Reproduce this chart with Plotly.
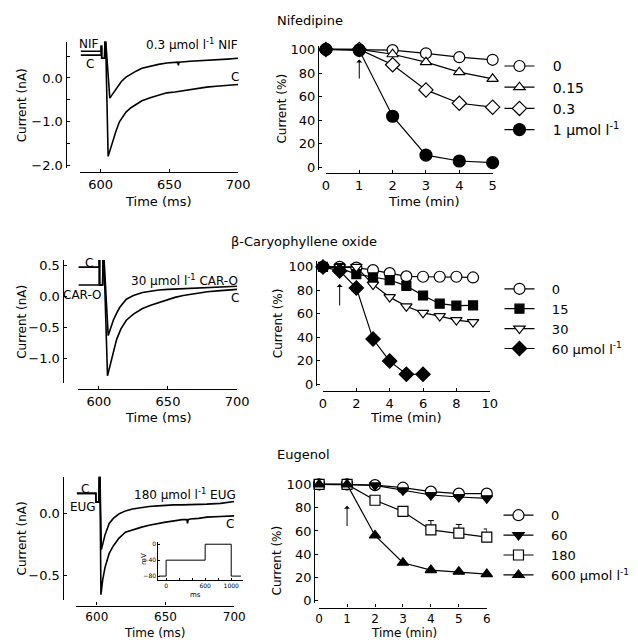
import plotly.graph_objects as go

W, H = 638, 640
def fx(x): return x / W
def fy(y): return 1 - y / H

FONT = "DejaVu Sans"
BLACK = "black"
PAD = "\u00a0\u00a0\u00a0"

# ---------------- Panel A: Nifedipine current traces (nA vs ms) ----------------
a_ctrl_t = [585.5, 600.3, 600.3, 600.7, 600.7, 602.8, 603.1, 603.5, 605.4, 607, 609, 611, 613.6, 616,
            618.4, 622, 626, 630, 636, 642, 648, 654, 660, 665, 671, 677, 684, 692, 700]
a_ctrl_i = [0.52, 0.52, 0.72, 0.72, 0.45, 0.45, 0.95, 0.95, -1.79, -1.62, -1.42, -1.22, -1.0, -0.88,
            -0.78, -0.68, -0.59, -0.52, -0.45, -0.39, -0.34, -0.32, -0.29, -0.26, -0.24, -0.21, -0.19, -0.17, -0.15]
a_nif_t = [585.5, 600.3, 600.3, 600.7, 600.7, 602.8, 603.1, 603.4, 606.6, 608, 610, 612, 615, 618.4, 622,
           626, 630, 636, 642, 648, 653.6, 656.0, 656.5, 657.0, 665, 672, 677, 684, 692, 700]
a_nif_i = [0.61, 0.61, 0.72, 0.72, 0.45, 0.45, 0.95, 0.95, -0.46, -0.40, -0.30, -0.20, -0.08, 0.02, 0.09,
           0.16, 0.22, 0.27, 0.31, 0.34, 0.36, 0.36, 0.29, 0.36, 0.38, 0.39, 0.40, 0.42, 0.43, 0.45]

# ---------------- Panel B: Nifedipine time course ----------------
b_time = [0, 1, 2, 3, 4, 5]
b_0 = [100, 100, 99.4, 96.7, 93.4, 91.2]
b_0_err = [0, 0, 0, 1, 1.5, 3]
b_015 = [100, 100, 95.9, 89.2, 80.7, 75.1]
b_03 = [100, 100, 87.0, 65.7, 54.4, 51.1]
b_1 = [100, 99.2, 43.4, 10.5, 5.5, 4.1]
b_names = ["0", "0.15", "0.3", "1 µmol l<sup>-1</sup>"]

# ---------------- Panel C: CAR-O current traces ----------------
c_ctrl_t = [585.3, 600.3, 600.3, 600.6, 600.6, 602.8, 603.1, 603.6, 606.3, 608.2, 610.5, 612.9, 616, 619.9,
            625, 631.6, 637, 643.3, 650, 655, 661, 666.7, 672, 678.4, 688, 700]
c_ctrl_i = [0.48, 0.48, 0.70, 0.70, 0.19, 0.19, 0.70, 0.70, -1.28, -1.12, -0.90, -0.69, -0.52, -0.38,
            -0.28, -0.19, -0.14, -0.09, -0.04, -0.01, 0.02, 0.04, 0.06, 0.08, 0.10, 0.12]
c_car_t = [585.3, 600.3, 600.3, 600.6, 600.6, 602.8, 603.1, 603.6, 606.8, 608.5, 610.5, 613, 615.2, 619.9,
           625, 631.6, 637, 643.3, 650, 660, 670, 680, 690, 700]
c_car_i = [0.19, 0.19, 0.70, 0.70, 0.19, 0.19, 0.70, 0.70, -0.63, -0.52, -0.38, -0.26, -0.17, -0.04,
           0.02, 0.07, 0.09, 0.11, 0.12, 0.13, 0.14, 0.15, 0.16, 0.17]

# ---------------- Panel D: beta-Caryophyllene oxide time course ----------------
d_time = [0, 1, 2, 3, 4, 5, 6, 7, 8, 9]
d_0 = [100, 100, 99.4, 97.2, 94.7, 91.9, 91.6, 91.6, 91.6, 91.0]
d_15 = [100, 98.9, 93.8, 91.0, 88.8, 83.8, 75.6, 68.6, 66.9, 67.2]
d_30 = [100, 100, 100, 84.9, 74.2, 66.4, 60.8, 58.0, 54.6, 52.9]
d_60_time = [0, 1, 2, 3, 4, 5, 6]
d_60 = [100, 96.6, 82.1, 38.4, 19.6, 8.4, 8.4]
d_names = ["0", "15", "30", "60 µmol l<sup>-1</sup>"]

# ---------------- Panel E: Eugenol current traces ----------------
e_ctrl_t = [585.5, 599.3, 599.3, 601.5, 601.8, 602.2, 603.0, 604.3, 606, 609, 612, 616, 620.8, 626, 632.6,
            638, 644.4, 650, 656.3, 662, 665.5, 666, 666.5, 668, 674, 680, 690, 700]
e_ctrl_i = [0.16, 0.16, 0.09, 0.09, 0.35, 0.35, -0.65, -0.53, -0.43, -0.32, -0.26, -0.20, -0.15, -0.13, -0.11,
            -0.095, -0.08, -0.07, -0.06, -0.05, -0.05, -0.08, -0.05, -0.045, -0.04, -0.03, -0.025, -0.02]
e_eug_t = [585.5, 599.3, 599.3, 601.5, 601.8, 602.2, 603.3, 604.3, 606, 609, 612, 616, 620.8, 626, 632.6,
           638, 644.4, 650, 656, 662, 668, 674, 680, 690, 700]
e_eug_i = [0.16, 0.16, 0.09, 0.09, 0.35, 0.35, -0.29, -0.24, -0.17, -0.08, -0.04, -0.005, 0.02, 0.035, 0.047,
           0.055, 0.06, 0.065, 0.068, 0.068, 0.068, 0.072, 0.074, 0.08, 0.095]

# inset voltage protocol
proto_t = [-110, 0, 0, 600, 600, 1000, 1000, 1150]
proto_v = [-80, -80, -40, -40, 0, 0, -80, -80]

# ---------------- Panel F: Eugenol time course ----------------
f_time = [0, 1, 2, 3, 4, 5, 6]
f_0 = [100, 100, 99.4, 97.2, 93.8, 92.1, 92.1]
f_0_err = [0, 0, 0, 0, 1.5, 2, 2]
f_60 = [100, 100, 99.2, 94.9, 90.9, 89.2, 88.1]
f_180 = [100, 100, 86.4, 76.8, 60.9, 58.1, 54.7]
f_180_err = [0, 0, 0, 4, 8, 7.5, 7]
f_600 = [100, 100, 56.1, 32.6, 26.3, 24.9, 22.9]
f_names = ["0", "60", "180", "600 µmol l<sup>-1</sup>"]

fig = go.Figure()

def trace_line(t, i, xa, ya):
    fig.add_trace(go.Scatter(x=t, y=i, mode="lines", xaxis=xa, yaxis=ya, showlegend=False,
                             line=dict(color=BLACK, width=1.6), hoverinfo="skip"))

trace_line(a_ctrl_t, a_ctrl_i, "x", "y")
trace_line(a_nif_t, a_nif_i, "x", "y")
trace_line(c_ctrl_t, c_ctrl_i, "x3", "y3")
trace_line(c_car_t, c_car_i, "x3", "y3")
trace_line(e_ctrl_t, e_ctrl_i, "x5", "y5")
trace_line(e_eug_t, e_eug_i, "x5", "y5")
fig.add_trace(go.Scatter(x=proto_t, y=proto_v, mode="lines", xaxis="x7", yaxis="y7", showlegend=False,
                         line=dict(color=BLACK, width=1), hoverinfo="skip"))

def series(t, v, name, symbol, fill, size, xa, ya, legend, err=None):
    kw = {}
    if err is not None:
        kw["error_y"] = dict(type="data", array=err, arrayminus=[0] * len(err), symmetric=False,
                             color=BLACK, thickness=1, width=3)
    fig.add_trace(go.Scatter(x=t, y=v, name=PAD + name, mode="lines+markers", xaxis=xa, yaxis=ya,
                             legend=legend, cliponaxis=False,
                             line=dict(color=BLACK, width=1.2),
                             marker=dict(symbol=symbol, size=size, color=fill,
                                         line=dict(color=BLACK, width=1.2)), **kw))

series(b_time, b_0, b_names[0], "circle", "white", 11, "x2", "y2", "legend", b_0_err)
series(b_time, b_015, b_names[1], "triangle-up", "white", 10, "x2", "y2", "legend")
series(b_time, b_03, b_names[2], "diamond", "white", 11, "x2", "y2", "legend")
series(b_time, b_1, b_names[3], "circle", BLACK, 12, "x2", "y2", "legend")

series(d_time, d_0, d_names[0], "circle", "white", 11, "x4", "y4", "legend2")
series(d_time, d_15, d_names[1], "square", BLACK, 9, "x4", "y4", "legend2")
series(d_time, d_30, d_names[2], "triangle-down", "white", 10, "x4", "y4", "legend2")
series(d_60_time, d_60, d_names[3], "diamond", BLACK, 11, "x4", "y4", "legend2")

series(f_time, f_0, f_names[0], "circle", "white", 11, "x6", "y6", "legend3", f_0_err)
series(f_time, f_60, f_names[1], "triangle-down", BLACK, 10, "x6", "y6", "legend3")
series(f_time, f_180, f_names[2], "square", "white", 10, "x6", "y6", "legend3", f_180_err)
series(f_time, f_600, f_names[3], "triangle-up", BLACK, 10, "x6", "y6", "legend3")

axis_common = dict(showline=True, linecolor=BLACK, linewidth=1.4, showgrid=False, zeroline=False,
                   ticks="inside", ticklen=3, tickwidth=1.2, tickcolor=BLACK,
                   tickfont=dict(family=FONT, size=13, color=BLACK), anchor="free", fixedrange=True)
small_tick = dict(family=FONT, size=12, color=BLACK)

def xax(x0, x1, rng, pos, **kw):
    d = dict(axis_common); d.update(domain=[fx(x0), fx(x1)], range=rng, position=fy(pos)); d.update(kw); return d

def yax(y0, y1, rng, pos, **kw):
    d = dict(axis_common); d.update(domain=[fy(y1), fy(y0)], range=rng, position=fx(pos)); d.update(kw); return d

legend_common = dict(bgcolor="rgba(0,0,0,0)", xanchor="left", yanchor="top", itemwidth=30,
                     tracegroupgap=0, borderwidth=0)

fig.update_layout(
    width=W, height=H, margin=dict(l=0, r=0, t=0, b=0),
    paper_bgcolor="white", plot_bgcolor="white",
    font=dict(family=FONT, size=13, color=BLACK),
    xaxis=xax(70, 232, [585.1, 700], 163, tickvals=[600, 650, 700]),
    yaxis=yax(30, 158, [-2.045, 0.831], 55, tickvals=[-2, -1, 0], tickformat=".1f",
              minor=dict(tickvals=[-1.5, -0.5, 0.5], ticks="inside", ticklen=3, tickcolor=BLACK)),
    xaxis2=xax(322, 493, [0, 5], 164, dtick=1),
    yaxis2=yax(35, 160, [-1.7, 102.5], 314, tickvals=[0, 20, 40, 60, 80, 100]),
    xaxis3=xax(68, 231, [585.2, 700], 383, tickvals=[600, 650, 700]),
    yaxis3=yax(252, 377, [-1.40, 0.595], 52, tickvals=[-1.0, -0.5, 0.0, 0.5], tickformat=".1f"),
    xaxis4=xax(319, 490, [0, 10], 385, dtick=2),
    yaxis4=yax(253, 380, [-1.7, 105], 312, tickvals=[0, 20, 40, 60, 80, 100]),
    xaxis5=xax(66, 228, [585.1, 700], 603, tickvals=[600, 650, 700], tickfont=small_tick),
    yaxis5=yax(472, 597, [-0.69, 0.294], 52, tickvals=[-0.5, 0.0], tickformat=".1f"),
    xaxis6=xax(315, 487, [0, 6], 605, dtick=1, tickfont=small_tick),
    yaxis6=yax(475, 600, [-1.7, 104.2], 310, tickvals=[0, 20, 40, 60, 80, 100]),
    xaxis7=dict(domain=[fx(150), fx(237)], range=[-121, 1182], anchor="y7", showline=True, linecolor=BLACK,
                linewidth=1, showgrid=False, zeroline=False, ticks="inside", ticklen=2, tickcolor=BLACK,
                tickvals=[0, 600, 1000],
                minor=dict(tickvals=[200, 400, 800], ticks="inside", ticklen=2, tickcolor=BLACK),
                tickfont=dict(family=FONT, size=6, color=BLACK), fixedrange=True),
    yaxis7=dict(domain=[fy(576.7), fy(538)], range=[-89, 6.6], anchor="x7", showline=True, linecolor=BLACK,
                linewidth=1, showgrid=False, zeroline=False, ticks="inside", ticklen=2, tickcolor=BLACK,
                tickvals=[-80, -40, 0], tickfont=dict(family=FONT, size=6, color=BLACK), fixedrange=True),
    legend=dict(legend_common, x=fx(500), y=fy(39), font=dict(family=FONT, size=14, color=BLACK)),
    legend2=dict(legend_common, x=fx(500), y=fy(266), font=dict(family=FONT, size=13, color=BLACK)),
    legend3=dict(legend_common, x=fx(499), y=fy(496), font=dict(family=FONT, size=13, color=BLACK)),
)

ann = []
def text(x, y, s, size=12, angle=0, xanchor="center"):
    ann.append(dict(x=fx(x), y=fy(y), xref="paper", yref="paper", text=s, showarrow=False,
                    textangle=angle, xanchor=xanchor, yanchor="middle", borderpad=0,
                    font=dict(family=FONT, size=size, color=BLACK)))

# panel titles
text(306, 9, "Nifedipine", 13)
text(300, 233, "β-Caryophyllene oxide", 13)
text(299, 450, "Eugenol", 13)
# axis titles
for yy in (95, 315, 535):
    text(10, yy, "Current (nA)", 12, -90)
for (xx, yy) in ((277, 98), (273, 316), (272, 557)):
    text(xx, yy, "Current (%)", 12, -90)
text(150, 192, "Time (ms)", 13)
text(150, 412, "Time (ms)", 13)
text(147, 631, "Time (ms)", 12)
text(423, 193, "Time (min)", 13)
text(404, 412, "Time (min)", 13)
text(402, 631, "Time (min)", 12)
# trace labels
text(79, 33, "NIF", 12)
text(80, 53, "C", 12)
text(233, 33, "0.3 µmol l<sup>-1</sup> NIF", 12, xanchor="right")
text(229, 66, "C", 12)
text(79, 255, "C", 12)
text(72, 287, "CAR-O", 12)
text(233, 272, "30 µmol l<sup>-1</sup> CAR-O", 12, xanchor="right")
text(229, 291, "C", 12)
text(75, 485, "C", 12)
text(73, 503, "EUG", 12)
text(231, 490, "180 µmol l<sup>-1</sup> EUG", 12, xanchor="right")
text(224, 520, "C", 12)
# inset labels
text(188, 592, "ms", 7)
text(136, 556, "mV", 7, -90)

# arrows marking drug application at t = 1 min
for (xa, ya, head, tail) in (("x2", "y2", 91.5, 74.0), ("x4", "y4", 85.4, 65.8), ("x6", "y6", 81.6, 62.9)):
    ann.append(dict(x=1, y=head, ax=1, ay=tail, xref=xa, yref=ya, axref=xa, ayref=ya, text="",
                    showarrow=True, arrowhead=1, arrowsize=1, arrowwidth=1, arrowcolor=BLACK))

fig.update_layout(annotations=ann)
fig.write_html("out.html")
